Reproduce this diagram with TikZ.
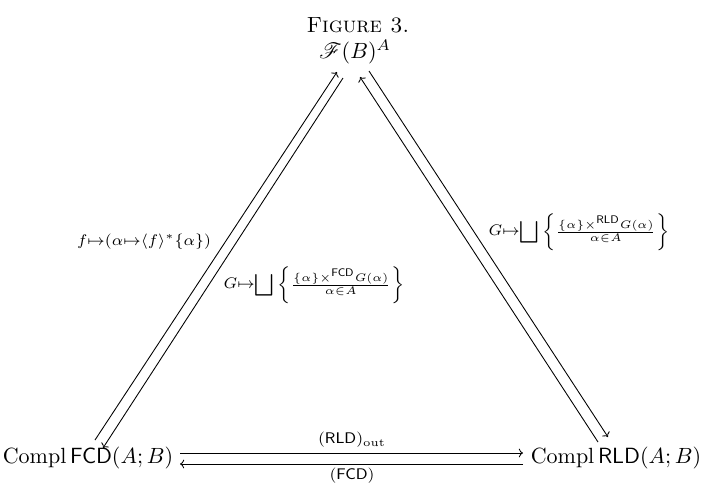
\documentclass[tikz,border=0pt]{standalone}
\usepackage{amsmath,amssymb,mathrsfs}
\usetikzlibrary{arrows.meta}
\begin{document}
\begin{tikzpicture}[x=0.4545pt,y=-0.4545pt,>={To[width=4pt,length=1.9pt]},
  obj/.style={inner sep=0pt},
  lbl/.style={inner sep=0pt,font=\scriptsize}]
\useasboundingbox (0,0) rectangle (717,502);
\node[obj] (title) at (358,25) {\textsc{Figure 3.}};
\node[obj] (T) at (355,52) {$\mathscr{F}(B)^A$};
\node[obj] (L) at (88,458) {$\operatorname{Compl}\mathsf{FCD}(A;B)$};
\node[obj] (R) at (616,458) {$\operatorname{Compl}\mathsf{RLD}(A;B)$};
% left pair
\draw[->] ([shift={(7,-18)}]L.center) -- ([shift={(-18,20)}]T.center);
\draw[->] ([shift={(-12,26)}]T.center) -- ([shift={(15,-10)}]L.center);
% right pair
\draw[->] ([shift={(-18,-16)}]R.center) -- ([shift={(5,25)}]T.center);
\draw[->] ([shift={(14,19)}]T.center) -- ([shift={(-8,-21)}]R.center);
% bottom pair
\draw[->] ([shift={(92,-5)}]L.center) -- ([shift={(-93,-5)}]R.center);
\draw[->] ([shift={(-93,6)}]R.center) -- ([shift={(92,6)}]L.center);
% labels
\node[lbl] (l1) at (144,242) {$f{\mapsto}(\alpha{\mapsto}\langle f\rangle^{\ast}\{\alpha\})$};
\node[lbl] (l2) at (314,285) {$G{\mapsto}{\displaystyle\bigsqcup}\left\{\frac{\{\alpha\}\times^{\mathsf{FCD}}G(\alpha)}{\alpha\in A}\right\}$};
\node[lbl] (l3) at (579,232) {$G{\mapsto}{\displaystyle\bigsqcup}\left\{\frac{\{\alpha\}\times^{\mathsf{RLD}}G(\alpha)}{\alpha\in A}\right\}$};
\node[lbl] (l4) at (352,440) {$(\mathsf{RLD})_{\mathrm{out}}$};
\node[lbl] (l5) at (352,476) {$(\mathsf{FCD})$};
\end{tikzpicture}
\end{document}
